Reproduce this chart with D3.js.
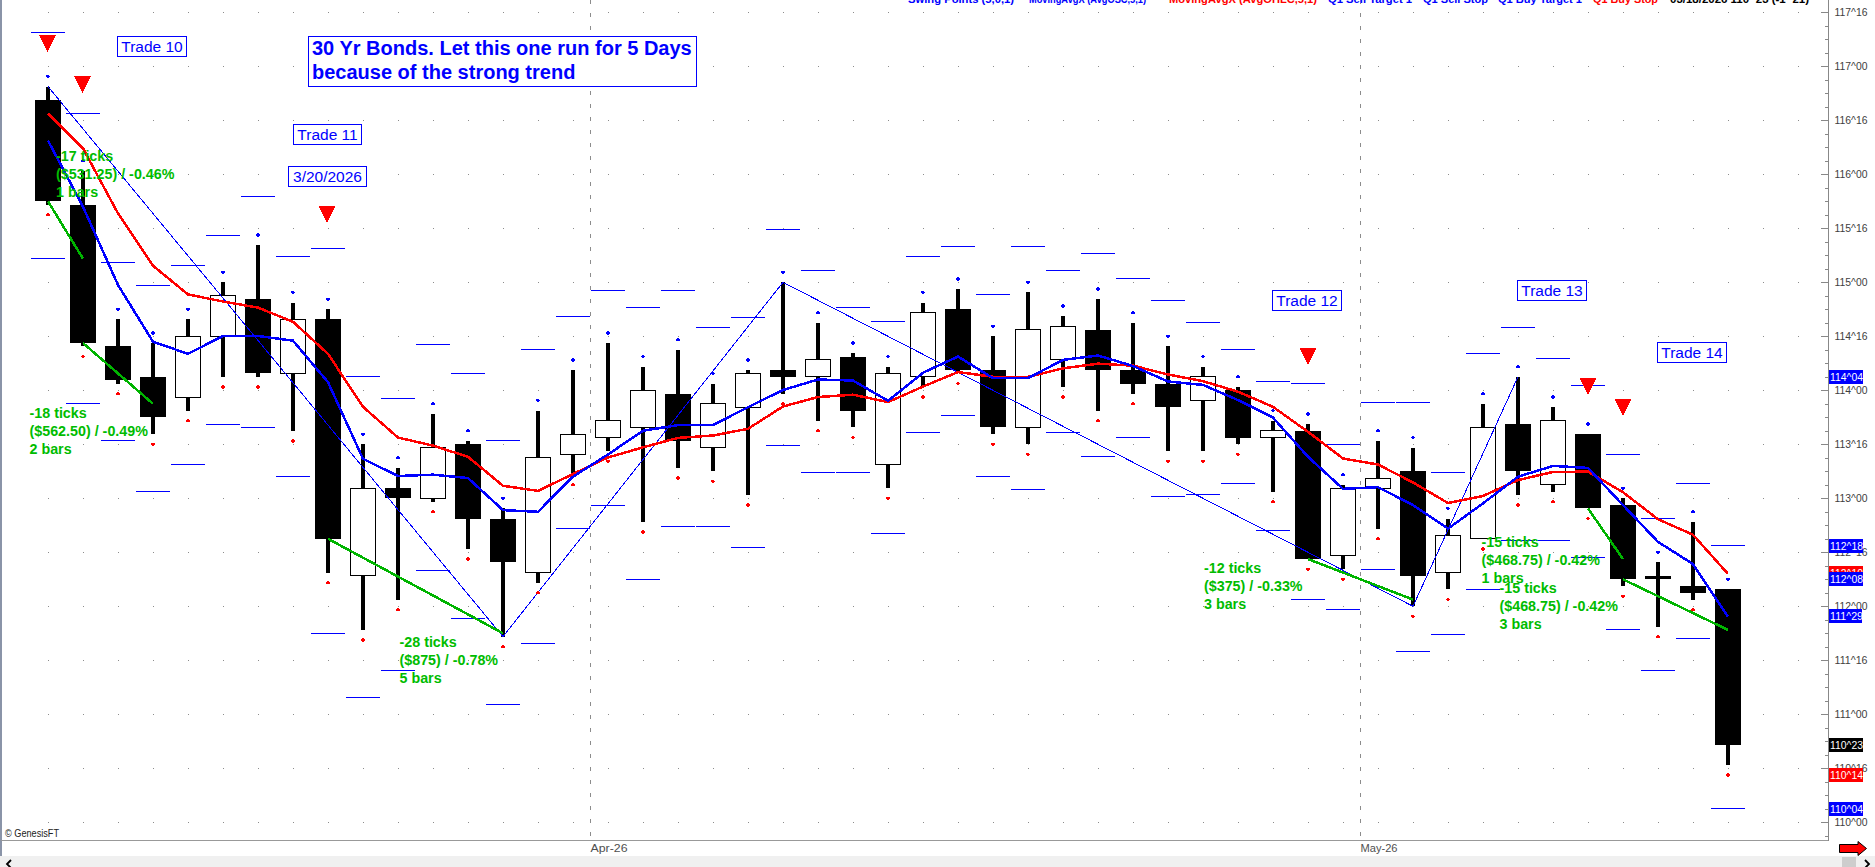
<!DOCTYPE html>
<html><head><meta charset="utf-8">
<script src="https://cdn.jsdelivr.net/npm/d3@7"></script>
<style>html,body{margin:0;padding:0;background:#fff;overflow:hidden}svg{display:block;font-family:"Liberation Sans",Arial,sans-serif;shape-rendering:crispEdges}</style>
</head><body><svg id="c" width="1875" height="867"></svg>
<script>
// All prices are in 32nds above 110^00
const highs=[218,193,149,142,149,160,171,154,152,112,105,121,113,93,122,134,142,135,140,130,134,160,148,139,135,154,158,144,157,150,155,148,141,135,129,119,118,100,113,111,90,124,132,123,115,96,77,89,69];
const lows=[183,141,130,115,122,132,132,116,74,57,66,95,81,55,71,103,110,89,105,104,97,127,119,117,99,129,133,115,112,129,122,127,110,110,112,98,78,75,87,64,69,84,97,98,93,70,58,66,17];
const opens=[214,183,141,132,126,144,155,133,149,73,99,96,112,90,74,109,114,117,127,111,123,134,132,138,106,132,152,134,117,137,146,134,130,125,128,114,116,79,99,104,74,84,118,100,115,94,73,70,69];
const closes=[184,142,131,120,144,156,133,149,84,99,96,111,90,77,108,115,119,128,113,124,133,132,137,122,133,151,134,117,146,147,134,130,123,132,114,116,78,99,102,73,85,117,104,119,93,72,72,68,23];
const swingHighs=[221,196,152,145,152,163,174,157,155,115,108,124,116,96,125,137,145,138,143,133,137,163,151,142,138,157,161,147,160,153,158,151,144,138,132,122,121,103,116,114,93,127,135,126,118,99,80,92,72];
const swingLows=[180,138,127,112,119,129,129,113,71,54,63,92,78,52,68,100,107,86,102,101,94,124,116,114,96,126,130,112,109,126,119,124,107,107,109,95,75,72,84,61,66,81,94,95,90,67,55,63,14];
const upperTargets=[234,210,166,159,165,174,185.5,167.5,170,132,125.5,141.5,133,113,140,150,157.5,152.5,157.5,146.5,149.5,175.5,163.5,152.5,148.5,167.5,170.5,156.5,170.5,163.5,168.5,161,154.5,148,140,130.5,130,112,124.5,124.5,103.5,139,146.5,137.5,129.5,109,90,100.5,82];
const lowerTargets=[167,124,113,98,106,118,117,102.5,56,37,45,74.5,60.5,35,53,87,94,72,87.5,87.5,81.5,111.5,103.5,103.5,85.5,115.5,120.5,102.5,98.5,115.5,108.5,114,96.5,97,100.5,86.5,66,63,75,50.5,55.5,69,83.5,83.5,78.5,57,45,54.5,4];
const avgOHLC=[210,199.7,180.4,164.9,156.4,154.3,152.5,148.3,138.8,123.1,114,111.6,108.3,99.7,98.2,103.2,108.1,111.1,113.9,114.6,116.6,123.2,126,126.7,124.5,129.1,133.4,132,132,134.5,135.9,135.3,132.7,130.7,127.6,123.1,115.7,107.8,106,100.7,94.6,96.7,101.4,103.8,103.9,97.8,89.8,85.2,73.6];
const avgOSC=[202,182.4,159.2,142.4,138.8,144.1,144.1,142.7,130.4,107.7,102.6,103,102,92.5,92,102.4,109,116,117.7,117.7,123,128.1,131.2,130.9,124.9,133.2,138,131.6,131.6,137,138.3,135.2,130.6,129.6,125.1,119.9,108.3,98.8,99.3,94,87,94.5,102.4,105.6,105,94,83.1,76.5,60.9];
const zigzagBars=[0,13,21,39,42];
const zigzagPrices=[218,55,160,64,132];
const tradeStartBars=[0,1,8,36,44,45];
const tradeStartPrices=[184,142,84,78,93,72];
const tradeEndBars=[1,3,13,39,45,48];
const tradeEndPrices=[167,124,56,66,78,57];
const signalBars=[-0.02,0.98,7.97,36,44,45];
const signalPrices=[233.3,221.1,182.6,140.5,131.6,125.3];
const gridBars=d3.range(0,51);
const monthLabels=["Apr-26","May-26"];
const monthBars=[15.5,37.5];
const tickValuesMajor=d3.range(0,241,16);
const tickValuesMinor=d3.range(-4,241,4);
const tickLabels=["110^00","110^16","111^00","111^16","112^00","112^16","113^00","113^16","114^00","114^16","115^00","115^16","116^00","116^16","117^00","117^16"];
const tagValues=[132,82,74,72,61,23,14,4];
const tagLabels=["114^04","112^18","112^10","112^08","111^29","110^23","110^14","110^04"];
const tagColors=["#0000ff","#0000ff","#ff0000","#0000ff","#0000ff","#000000","#ff0000","#0000ff"];
const noteLabels=[["-17 ticks","($531.25) / -0.46%","1 bars"],["-18 ticks","($562.50) / -0.49%","2 bars"],["-28 ticks","($875) / -0.78%","5 bars"],["-12 ticks","($375) / -0.33%","3 bars"],["-15 ticks","($468.75) / -0.42%","1 bars"],["-15 ticks","($468.75) / -0.42%","3 bars"]];
const noteX=[56,29.5,399.5,1204,1481.5,1499.5];
const noteY=[156,412.7,641.7,567.7,541.7,587.7];
const boxLabels=["Trade 10","Trade 11","3/20/2026","Trade 12","Trade 13","Trade 14"];
const boxX=[117.5,293.5,288.5,1272.5,1517.5,1657.5];
const boxY=[36.5,124.5,166.5,290.5,280.5,342.5];
const boxW=[69,68,78,69,69,69];
const titleLines=["30 Yr Bonds. Let this one run for 5 Days","because of the strong trend"];
const legendLabels=["Swing Points (5,0,1)","MovingAvgX (AvgOSC,5,1)","MovingAvgX (AvgOHLC,5,1)","Q1 Sell Target 1","Q1 Sell Stop","Q1 Buy Target 1","Q1 Buy Stop","03/18/2026  110^23 (-1^21)"];
const legendX=[908,1029,1169,1328,1423,1498,1593,1670];
const legendW=[106,117,148,84,65,84,65,139];
const legendColors=["#0000ff","#0000ff","#ff0000","#0000ff","#0000ff","#0000ff","#ff0000","#000000"];

const svg=d3.select("#c");
const x=d3.scaleLinear().domain([0,48]).range([48,1728]);
const y=d3.scaleLinear().domain([0,240]).range([822.3,12.3]);
const idx=d3.range(highs.length);
const BLUE="#0000ff",RED="#ff0000",GREEN="#00b400";

// grid dots
const grid=svg.append("g").attr("fill","#8c8c8c");
tickValuesMajor.forEach(t=>{grid.selectAll(null).data(gridBars).join("rect").attr("x",d=>x(d)-0.5).attr("y",Math.round(y(t))).attr("width",1).attr("height",1);});
// month separators
svg.append("g").selectAll("line").data(monthBars).join("line").attr("x1",d=>x(d)).attr("x2",d=>x(d)).attr("y1",0).attr("y2",840)
  .attr("stroke","#8c8c8c").attr("stroke-dasharray","4 9");
// plot frame
svg.append("rect").attr("x",0).attr("y",0).attr("width",1.5).attr("height",856).attr("fill","#8a94a8");
svg.append("line").attr("x1",1).attr("x2",1829).attr("y1",840.5).attr("y2",840.5).attr("stroke","#999");
// scroll bar band
svg.append("rect").attr("x",0).attr("y",856).attr("width",1875).attr("height",11).attr("fill","#f0f0f0");
svg.append("rect").attr("x",1842).attr("y",857).attr("width",14).attr("height",10).attr("fill","#cdcdcd");
svg.append("path").attr("d","M11,860 L7,864 L11,868").attr("fill","none").attr("stroke","#000").attr("stroke-width",1.8).attr("shape-rendering","auto");
svg.append("path").attr("d","M1865,860 L1869,864 L1865,868").attr("fill","none").attr("stroke","#000").attr("stroke-width",1.8).attr("shape-rendering","auto");
svg.append("path").attr("d","M1839.5,844.5 H1858 V841.5 L1866.5,848.5 L1858,855.5 V852.5 H1839.5 Z").attr("fill",RED).attr("stroke","#000").attr("shape-rendering","auto");

// target dashes
const dashes=svg.append("g").attr("stroke",BLUE).attr("stroke-width",1);
dashes.selectAll(".u").data(idx).join("line").attr("class","u").attr("x1",i=>x(i)-17.5).attr("x2",i=>x(i)+16.5).attr("y1",i=>y(upperTargets[i])).attr("y2",i=>y(upperTargets[i]));
dashes.selectAll(".l").data(idx).join("line").attr("class","l").attr("x1",i=>x(i)-17.5).attr("x2",i=>x(i)+16.5).attr("y1",i=>y(lowerTargets[i])).attr("y2",i=>y(lowerTargets[i]));

// candles
const c=svg.append("g");
c.selectAll(".w").data(idx).join("rect").attr("class","w").attr("x",i=>x(i)-2).attr("width",4).attr("y",i=>y(highs[i])).attr("height",i=>y(lows[i])-y(highs[i])).attr("fill","#000");
c.selectAll(".b").data(idx).join("rect").attr("class","b")
  .attr("x",i=>closes[i]>opens[i]?x(i)-12.5:x(i)-13)
  .attr("width",i=>closes[i]>opens[i]?25:26)
  .attr("y",i=>y(Math.max(opens[i],closes[i])))
  .attr("height",i=>Math.max(2,y(Math.min(opens[i],closes[i]))-y(Math.max(opens[i],closes[i]))))
  .attr("fill",i=>closes[i]>opens[i]?"#fff":"#000")
  .attr("stroke","#000").attr("stroke-width",i=>closes[i]>opens[i]?1:0);

// zigzag
const ln=d3.line().x(d=>x(d[0])).y(d=>y(d[1]));
svg.append("path").attr("d",ln(d3.zip(zigzagBars,zigzagPrices))).attr("fill","none").attr("stroke",BLUE).attr("stroke-width",1);
// moving averages
svg.append("path").attr("d",ln(d3.zip(idx,avgOHLC))).attr("fill","none").attr("stroke",RED).attr("stroke-width",2.5);
svg.append("path").attr("d",ln(d3.zip(idx,avgOSC))).attr("fill","none").attr("stroke",BLUE).attr("stroke-width",2.5);
// trade lines
svg.append("g").selectAll("line").data(tradeStartBars).join("line")
  .attr("x1",(d,i)=>x(d)).attr("y1",(d,i)=>y(tradeStartPrices[i])).attr("x2",(d,i)=>x(tradeEndBars[i])).attr("y2",(d,i)=>y(tradeEndPrices[i]))
  .attr("stroke",GREEN).attr("stroke-width",2.5);
// swing dots
svg.append("g").selectAll("circle").data(idx).join("circle").attr("cx",i=>x(i)).attr("cy",i=>y(swingHighs[i])).attr("r",1.8).attr("fill",BLUE);
svg.append("g").selectAll("circle").data(idx).join("circle").attr("cx",i=>x(i)).attr("cy",i=>y(swingLows[i])).attr("r",1.8).attr("fill",RED);
// signal triangles
svg.append("g").selectAll("path").data(signalBars).join("path")
  .attr("d",(d,i)=>{const X=x(d),Y=y(signalPrices[i]);return `M${X-8.5},${Y} H${X+8.5} L${X},${Y+17} Z`;}).attr("fill",RED);

// right axis
const ax=svg.append("g").attr("transform","translate(1828.5,0)");
const minorG=ax.append("g").call(d3.axisLeft(y).tickValues(tickValuesMinor).tickSize(4).tickFormat(""));
const majorG=ax.append("g").call(d3.axisLeft(y).tickValues(tickValuesMajor).tickSize(8).tickFormat(""));
[minorG,majorG].forEach(g=>{g.select(".domain").remove();g.selectAll("line").attr("stroke","#888");});
ax.append("line").attr("x1",0).attr("x2",0).attr("y1",0).attr("y2",841).attr("stroke","#888");
const labelAxis=d3.axisRight(y).tickValues(tickValuesMajor).tickSize(0).tickPadding(6).tickFormat((d,i)=>tickLabels[i]);
const labG=ax.append("g").call(labelAxis);
labG.select(".domain").remove();
labG.selectAll("text").attr("font-family","Liberation Sans").attr("font-size",11).attr("fill","#404040").attr("textLength",33).attr("lengthAdjust","spacingAndGlyphs");

// price tags
const tags=svg.append("g");
tagValues.forEach((d,i)=>{
  tags.append("rect").attr("x",1829).attr("y",y(d)-7).attr("height",14).attr("width",tagLabels[i]==="111^29"?33:34).attr("fill",tagColors[i]);
  tags.append("text").attr("x",1830).attr("y",y(d)+4).attr("fill","#fff").attr("font-size",11.5).attr("textLength",33).attr("lengthAdjust","spacingAndGlyphs").text(tagLabels[i]);
});

// month labels
svg.append("g").selectAll("text").data(monthLabels).join("text").attr("x",(d,i)=>x(monthBars[i])).attr("y",852).attr("font-size",11).attr("fill","#505050").attr("textLength",37).attr("lengthAdjust","spacingAndGlyphs").text(d=>d);

// notes
const notes=svg.append("g").attr("fill","#00bc00").attr("font-weight","bold").attr("font-size",14.3);
noteLabels.forEach((lines,k)=>lines.forEach((t,j)=>{
  notes.append("text").attr("x",noteX[k]).attr("y",noteY[k]+18*j+5).text(t);
}));
// boxes
const box=svg.append("g");
boxLabels.forEach((t,i)=>{
  box.append("rect").attr("x",boxX[i]).attr("y",boxY[i]).attr("width",boxW[i]).attr("height",20).attr("fill","#fff").attr("stroke",BLUE);
  box.append("text").attr("x",boxX[i]+boxW[i]/2).attr("y",boxY[i]+15.5).attr("text-anchor","middle").attr("font-size",15.5).attr("fill",BLUE).text(t);
});
// title
svg.append("rect").attr("x",308.5).attr("y",36.5).attr("width",388).attr("height",50).attr("fill","#fff").attr("stroke",BLUE);
titleLines.forEach((t,i)=>svg.append("text").attr("x",312).attr("y",54.5+24*i).attr("font-size",20).attr("font-weight","bold").attr("fill",BLUE).text(t));
// legend
svg.append("g").selectAll("text").data(legendLabels).join("text").attr("x",(d,i)=>legendX[i]).attr("y",3).attr("font-size",11.5).attr("font-weight","bold").attr("textLength",(d,i)=>legendW[i]).attr("lengthAdjust","spacingAndGlyphs").attr("fill",(d,i)=>legendColors[i]).text(d=>d);
svg.append("text").attr("x",5).attr("y",836.5).attr("font-size",10).attr("fill","#222").attr("textLength",54).attr("lengthAdjust","spacingAndGlyphs").text("© GenesisFT");
</script></body></html>
